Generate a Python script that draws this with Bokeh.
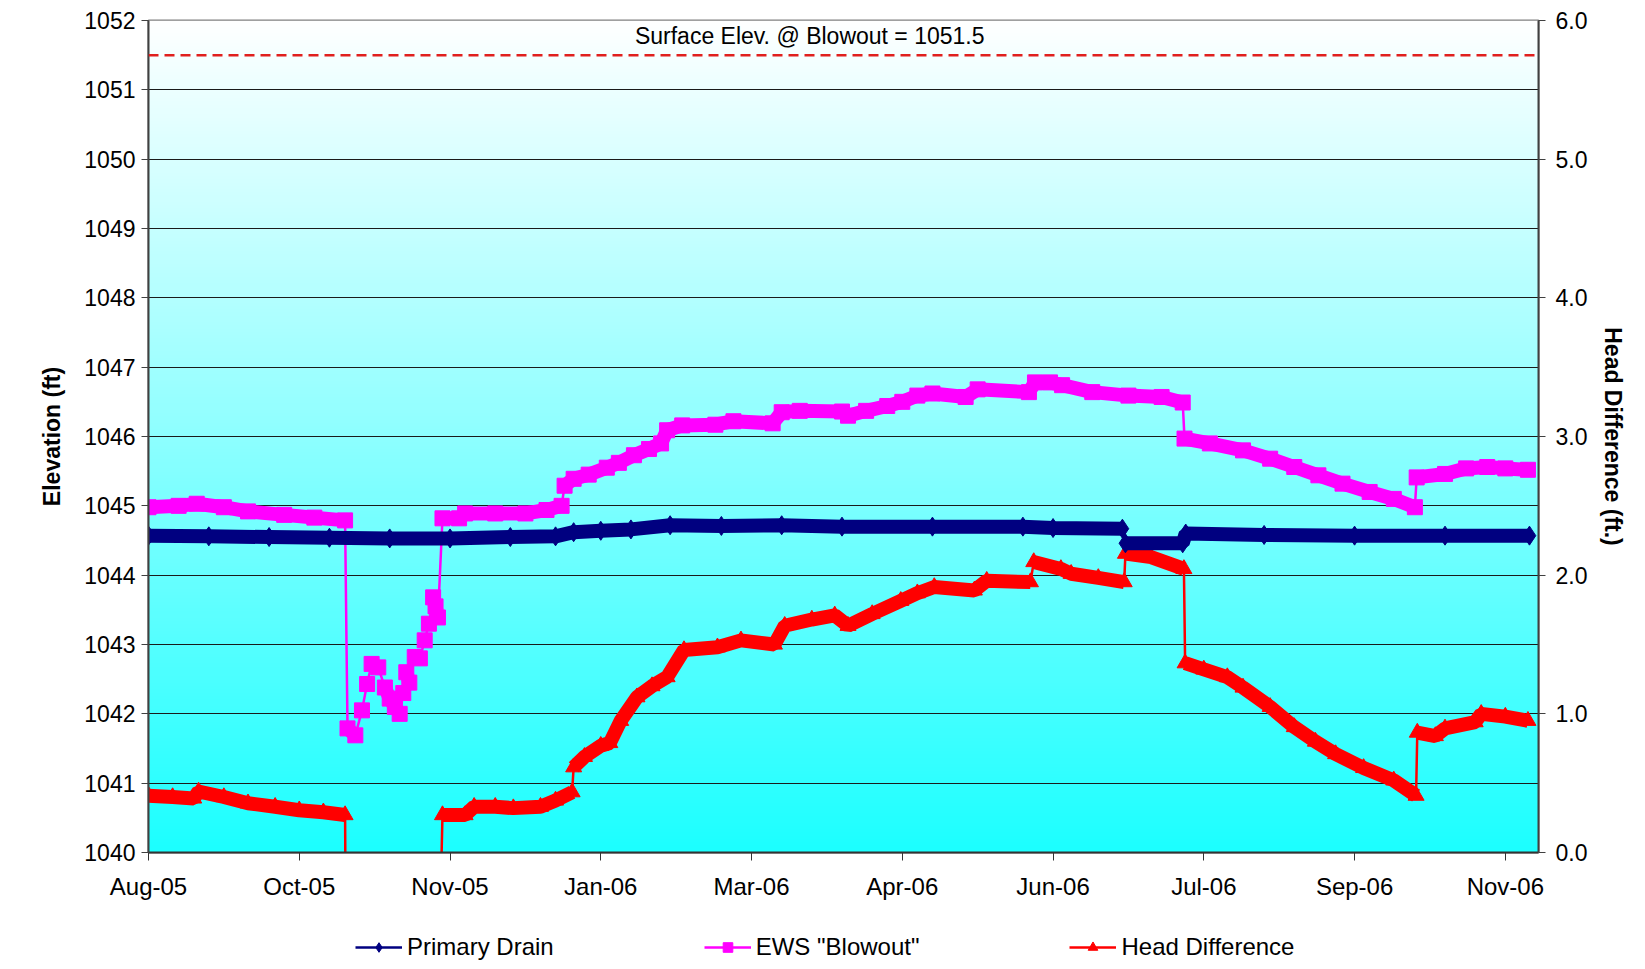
import numpy as np
import pandas as pd
from bokeh.plotting import figure
from bokeh.layouts import column
from bokeh.models import (Range1d, LinearAxis, FixedTicker, Span, Label,
                          Legend, LegendItem, PrintfTickFormatter)
from bokeh.embed import file_html
from bokeh.resources import INLINE

# ---------------- DATA ----------------
start_date = "2005-08-13"          # first reading (day 0)
end_day = 461                      # right end of the axis (days after start)
tick_step_days = 50
tick_labels = ["Aug-05", "Oct-05", "Nov-05", "Jan-06", "Mar-06",
               "Apr-06", "Jun-06", "Jul-06", "Sep-06", "Nov-06"]
surface_elev = 1051.5

# Primary Drain elevation (ft)
drain_day = [0, 20, 40, 60, 80, 100, 120, 135, 141, 150, 160, 173, 190, 210,
             230, 260, 290, 300, 323, 324, 343, 344, 370, 400, 430, 458]
drain_elev = [1044.57, 1044.56, 1044.55, 1044.54, 1044.53, 1044.53, 1044.55,
              1044.56, 1044.62, 1044.64, 1044.66, 1044.72, 1044.71, 1044.72,
              1044.70, 1044.70, 1044.70, 1044.68, 1044.67, 1044.46, 1044.46,
              1044.60, 1044.58, 1044.57, 1044.57, 1044.57]

# EWS "Blowout" elevation (ft)
ews_day = [0, 10, 16, 25, 33, 45, 55, 65.2, 66.0, 68.6, 70.8, 72.5, 74, 76.2,
           78.4, 80, 81.7, 83.3, 84.5, 85.5, 86.5, 88.3, 90, 91.6, 93, 94.4,
           95.2, 96, 97.5, 103, 105, 115, 125, 132, 137, 138, 141, 146, 152,
           156, 161, 166, 170, 172, 177, 188, 194, 207, 210, 216, 230, 232,
           238, 245, 250, 255, 260, 271, 275, 292, 294, 299, 303, 313, 325,
           336, 343, 343.6, 352, 363, 372, 380, 388, 396, 405, 413, 420,
           420.6, 430, 437, 444, 450, 457.5]
ews_elev = [1044.98, 1045.00, 1045.03, 1044.98, 1044.92, 1044.87, 1044.83,
            1044.79, 1041.79, 1041.69, 1042.05, 1042.43, 1042.72, 1042.67,
            1042.38, 1042.22, 1042.10, 1042.00, 1042.30, 1042.60, 1042.45,
            1042.82, 1042.80, 1043.06, 1043.30, 1043.68, 1043.55, 1043.39,
            1044.82, 1044.82, 1044.89, 1044.89, 1044.89, 1044.94, 1045.00,
            1045.29, 1045.39, 1045.45, 1045.55, 1045.62, 1045.73, 1045.82,
            1045.90, 1046.09, 1046.16, 1046.17, 1046.22, 1046.19, 1046.35,
            1046.37, 1046.36, 1046.30, 1046.37, 1046.44, 1046.50, 1046.59,
            1046.62, 1046.57, 1046.68, 1046.64, 1046.78, 1046.78, 1046.74,
            1046.64, 1046.59, 1046.57, 1046.49, 1045.97, 1045.90, 1045.80,
            1045.68, 1045.56, 1045.44, 1045.32, 1045.20, 1045.10, 1044.98,
            1045.41, 1045.46, 1045.54, 1045.56, 1045.54, 1045.52]

# Head Difference (ft) - right axis
head_day = [0, 8, 15, 16.6, 25, 33, 42, 50, 58, 65.2, 66.0, 80, 96, 97.5,
            105, 108, 115, 121, 130, 135, 140.5, 141, 144.6, 150, 153, 156.6,
            162, 167, 172, 177.6, 188.7, 196.5, 207.6, 211, 220, 227.6, 232,
            240, 249.5, 255, 260.6, 273.9, 278, 292.5, 293.6, 302.6, 306, 315,
            323.6, 324, 332.5, 343.4, 343.8, 350, 357.8, 363, 372, 380, 387,
            393.7, 403, 413, 420.4, 420.8, 426.8, 430, 440, 442, 450, 457.5]
head_diff = [0.41, 0.40, 0.39, 0.44, 0.40, 0.355, 0.33, 0.305, 0.29, 0.27,
             -2.75, -2.40, -1.15, 0.27, 0.27, 0.33, 0.33, 0.32, 0.33, 0.375,
             0.435, 0.615, 0.69, 0.77, 0.79, 0.95, 1.12, 1.20, 1.265, 1.46,
             1.48, 1.53, 1.50, 1.635, 1.68, 1.71, 1.635, 1.72, 1.815, 1.87,
             1.915, 1.89, 1.96, 1.95, 2.095, 2.045, 2.01, 1.98, 1.95, 2.155,
             2.13, 2.045, 1.365, 1.32, 1.265, 1.19, 1.05, 0.905, 0.80, 0.71,
             0.61, 0.52, 0.41, 0.865, 0.84, 0.895, 0.94, 1.00, 0.98, 0.95]

# ---------------- HELPERS ----------------
t0 = pd.Timestamp(start_date)
DAY_MS = 86400000.0
t0_ms = t0.value / 1e6


def to_ms(days):
    return [t0_ms + d * DAY_MS for d in days]


ML, MR, MT, MB = 148, 99, 20, 56
FRAME_W, FRAME_H = 1390, 832
W, H = ML + FRAME_W + MR, MT + FRAME_H + MB
LEG_H = 53
PX_DAY = FRAME_W / end_day


def split_runs(days, vals, px_per_unit):
    """Split a series into runs, breaking at steep jumps (drawn thin)."""
    xs, ys = [], []
    cx, cy = [days[0]], [vals[0]]
    for i in range(1, len(days)):
        dx = (days[i] - days[i - 1]) * PX_DAY
        dy = abs(vals[i] - vals[i - 1]) * px_per_unit
        if dy > 12 and dy > 2.5 * dx:
            if len(cx) > 1:
                xs.append(to_ms(cx)); ys.append(cy)
            cx, cy = [days[i]], [vals[i]]
        else:
            cx.append(days[i]); cy.append(vals[i])
    if len(cx) > 1:
        xs.append(to_ms(cx)); ys.append(cy)
    return xs, ys


FONT = "Liberation Sans"

p = figure(width=W, height=H, x_axis_type="datetime",
           x_range=Range1d(t0_ms, t0_ms + end_day * DAY_MS),
           y_range=Range1d(1040, 1052),
           output_backend="svg", toolbar_location=None,
           min_border_left=ML, min_border_right=MR,
           min_border_top=MT, min_border_bottom=MB,
           background_fill_color="white", border_fill_color="white")
p.extra_y_ranges = {"head": Range1d(0, 6)}

# gradient plot background (white -> cyan)
N = 256
img = np.empty((N, 1), dtype=np.uint32)
view = img.view(dtype=np.uint8).reshape((N, 1, 4))
frac = np.linspace(0, 1, N)  # 0 bottom, 1 top
view[:, 0, 0] = (28 + (255 - 28) * frac).astype(np.uint8)
view[:, 0, 1] = 255
view[:, 0, 2] = 255
view[:, 0, 3] = 255
p.image_rgba(image=[img], x=t0_ms, y=1040, dw=end_day * DAY_MS, dh=12,
             level="image")

# grid
p.xgrid.visible = False
p.ygrid.ticker = FixedTicker(ticks=list(range(1041, 1052)))
p.ygrid.grid_line_color = "#1a1a1a"
p.ygrid.grid_line_width = 1
p.outline_line_color = "#808080"
p.outline_line_width = 2

# surface elevation
p.add_layout(Span(location=surface_elev, dimension="width",
                  line_color="#E0201E", line_width=2.5, line_dash="10 6"))
p.add_layout(Label(x=t0_ms + 219.3 * DAY_MS, y=1051.78,
                   text=f"Surface Elev. @ Blowout = {surface_elev}",
                   text_align="center", text_baseline="middle",
                   text_font=FONT, text_font_size="23px", text_color="black"))

PX_ELEV = FRAME_H / 12.0
PX_HEAD = FRAME_H / 6.0

# --- Head Difference (red, right axis) ---
hx, hy = split_runs(head_day, head_diff, PX_HEAD)
p.multi_line(hx, hy, line_color="#FF0000", line_width=14, y_range_name="head")
p.line(to_ms(head_day), head_diff, line_color="#FF0000",
       line_width=2.5, y_range_name="head")
p.scatter(to_ms(head_day), head_diff, marker="triangle", size=16,
          fill_color="#FF0000", line_color="#FF0000", y_range_name="head")

# --- EWS Blowout (magenta) ---
ex, ey = split_runs(ews_day, ews_elev, PX_ELEV)
p.multi_line(ex, ey, line_color="#FF00FF", line_width=14)
p.line(to_ms(ews_day), ews_elev, line_color="#FF00FF", line_width=2.5)
p.scatter(to_ms(ews_day), ews_elev, marker="square", size=15,
          fill_color="#FF00FF", line_color="#FF00FF")

# --- Primary Drain (navy) ---
dx_, dy_ = split_runs(drain_day, drain_elev, PX_ELEV)
p.multi_line(dx_, dy_, line_color="#000080", line_width=14)
p.line(to_ms(drain_day), drain_elev, line_color="#000080", line_width=2.5)
p.scatter(to_ms(drain_day), drain_elev, marker="diamond", size=19,
          fill_color="#000080", line_color="#000080")

# ---------------- AXES ----------------
xticks = [t0_ms + k * tick_step_days * DAY_MS for k in range(len(tick_labels))]
xa = p.xaxis[0]
xa.ticker = FixedTicker(ticks=xticks)
xa.major_label_overrides = {t: lab for t, lab in zip(xticks, tick_labels)}
xa.minor_tick_line_color = None
xa.major_tick_in = 0
xa.major_tick_out = 8
xa.axis_line_color = "#333333"
xa.axis_line_width = 2
xa.major_tick_line_color = "#333333"
xa.major_label_text_font = FONT
xa.major_label_text_font_size = "24px"
xa.major_label_text_color = "black"
xa.major_label_standoff = 12

ya = p.yaxis[0]
ya.ticker = FixedTicker(ticks=list(range(1040, 1053)))
ya.minor_tick_line_color = None
ya.major_tick_in = 0
ya.major_tick_out = 7
ya.axis_line_color = "#404040"
ya.axis_line_width = 2
ya.major_tick_line_color = "#404040"
ya.major_label_text_font = FONT
ya.major_label_text_font_size = "23px"
ya.major_label_text_color = "black"
ya.major_label_standoff = 6
ya.axis_label = "Elevation (ft)"
ya.axis_label_text_font = FONT
ya.axis_label_text_font_style = "bold"
ya.axis_label_text_font_size = "23px"
ya.axis_label_text_color = "black"
ya.axis_label_standoff = 16

ra = LinearAxis(y_range_name="head",
                ticker=FixedTicker(ticks=[0, 1, 2, 3, 4, 5, 6]),
                formatter=PrintfTickFormatter(format="%.1f"))
ra.minor_tick_line_color = None
ra.major_tick_in = 0
ra.major_tick_out = 7
ra.axis_line_color = "#404040"
ra.axis_line_width = 2
ra.major_tick_line_color = "#404040"
ra.major_label_text_font = FONT
ra.major_label_text_font_size = "23px"
ra.major_label_text_color = "black"
ra.major_label_standoff = 10
ra.axis_label = "Head Difference (ft.)"
ra.axis_label_text_font = FONT
ra.axis_label_text_font_style = "bold"
ra.axis_label_text_font_size = "23px"
ra.axis_label_text_color = "black"
ra.axis_label_standoff = 10
p.add_layout(ra, "right")

# ---------------- LEGEND (strip under the chart) ----------------
lg = figure(width=W, height=LEG_H, x_range=Range1d(0, 1), y_range=Range1d(0, 1),
            output_backend="svg", toolbar_location=None,
            min_border_left=0, min_border_right=0,
            min_border_top=0, min_border_bottom=0,
            outline_line_color=None, background_fill_color="white",
            border_fill_color="white")
lg.axis.visible = False
lg.grid.visible = False
off = [-10.0]   # sample glyphs kept outside the strip's view
dl = lg.line(off, off, line_color="#000080", line_width=2.5)
dm = lg.scatter(off, off, marker="diamond", size=18, fill_color="#000080",
                line_color="#000080")
el = lg.line(off, off, line_color="#FF00FF", line_width=2.5)
em = lg.scatter(off, off, marker="square", size=14, fill_color="#FF00FF",
                line_color="#FF00FF")
hl = lg.line(off, off, line_color="#FF0000", line_width=2.5)
hm = lg.scatter(off, off, marker="triangle", size=15, fill_color="#FF0000",
                line_color="#FF0000")
legend = Legend(items=[
    LegendItem(label="Primary Drain", renderers=[dl, dm]),
    LegendItem(label='EWS "Blowout"', renderers=[el, em]),
    LegendItem(label="Head Difference", renderers=[hl, hm]),
], orientation="horizontal", location=(207, 0))
legend.label_text_font = FONT
legend.label_text_font_size = "24px"
legend.label_text_color = "black"
legend.glyph_width = 47
legend.glyph_height = 24
legend.label_standoff = 5
legend.spacing = 150
legend.padding = 3
legend.margin = 0
legend.border_line_color = None
legend.background_fill_alpha = 0
lg.add_layout(legend, "center")

layout = column(p, lg, spacing=0)
open("out.html", "w").write(file_html(layout, INLINE))
